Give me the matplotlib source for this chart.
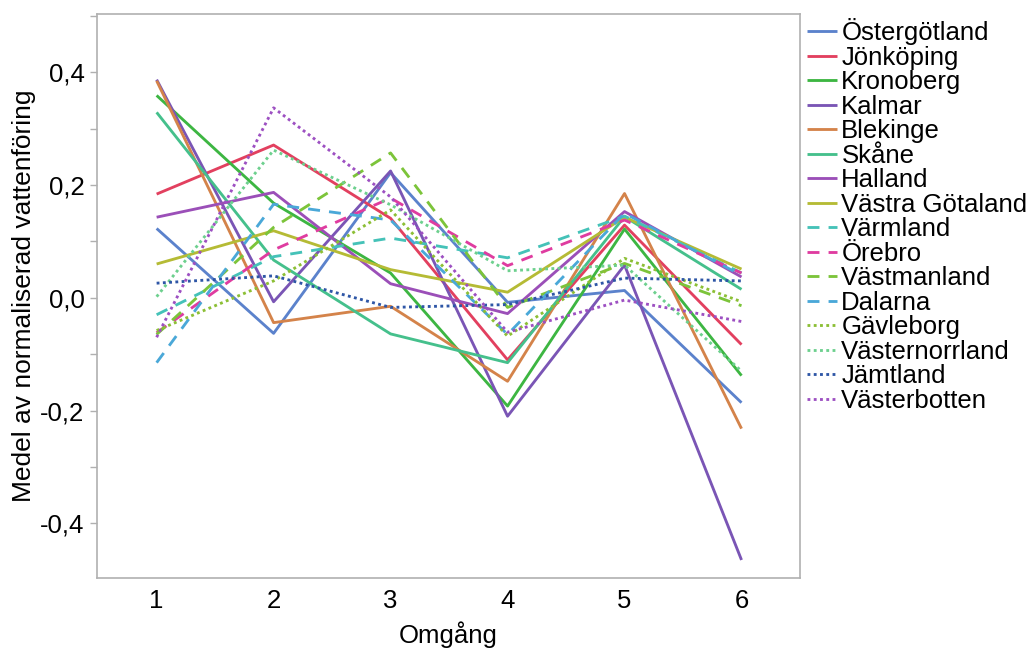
import matplotlib
matplotlib.use("Agg")
import matplotlib.pyplot as plt
from matplotlib.ticker import MultipleLocator, FuncFormatter

plt.rcParams['font.family'] = ['Liberation Sans', 'DejaVu Sans']

rounds = [1, 2, 3, 4, 5, 6]

names = ["Östergötland", "Jönköping", "Kronoberg", "Kalmar", "Blekinge", "Skåne",
         "Halland", "Västra Götaland", "Värmland", "Örebro", "Västmanland", "Dalarna",
         "Gävleborg", "Västernorrland", "Jämtland", "Västerbotten"]

ostergotland = [0.123, -0.063, 0.222, -0.008, 0.013, -0.186]
jonkoping = [0.184, 0.271, 0.141, -0.110, 0.129, -0.083]
kronoberg = [0.359, 0.168, 0.044, -0.192, 0.122, -0.138]
kalmar = [0.387, -0.007, 0.225, -0.210, 0.058, -0.465]
blekinge = [0.385, -0.044, -0.015, -0.148, 0.185, -0.232]
skane = [0.329, 0.067, -0.064, -0.115, 0.144, 0.015]
halland = [0.143, 0.187, 0.025, -0.028, 0.153, 0.037]
vastra_gotaland = [0.060, 0.119, 0.050, 0.010, 0.143, 0.051]
varmland = [-0.030, 0.073, 0.106, 0.071, 0.145, 0.044]
orebro = [-0.062, 0.085, 0.177, 0.057, 0.138, 0.044]
vastmanland = [-0.065, 0.125, 0.257, -0.017, 0.061, -0.014]
dalarna = [-0.115, 0.166, 0.138, -0.065, 0.150, 0.040]
gavleborg = [-0.058, 0.030, 0.156, -0.068, 0.070, -0.007]
vasternorrland = [0.002, 0.262, 0.165, 0.048, 0.058, -0.130]
jamtland = [0.026, 0.039, -0.017, -0.012, 0.035, 0.030]
vasterbotten = [-0.070, 0.337, 0.179, -0.061, -0.004, -0.042]

series = [ostergotland, jonkoping, kronoberg, kalmar, blekinge, skane, halland,
          vastra_gotaland, varmland, orebro, vastmanland, dalarna, gavleborg,
          vasternorrland, jamtland, vasterbotten]

colors = ["#5b82cc", "#e2405f", "#3db642", "#7a55b5", "#d4834a", "#45c08c",
          "#9b4fb8", "#b5bb35", "#45c2b8", "#df3ca0", "#7cc43a", "#4aa8d8",
          "#8cbf35", "#6dd08e", "#2e56a6", "#9d50c2"]
dash = (0, (4.2, 3.2))
dot = (0, (1.0, 1.2))
styles = ["-"] * 8 + [dash] * 4 + [dot] * 4

FS = 18.5

fig = plt.figure(figsize=(10.36, 6.48), dpi=100)
ax = fig.add_axes([0.0936, 0.108, 0.6786, 0.870])

for vals, name, c, ls in zip(series, names, colors, styles):
    ax.plot(rounds, vals, color=c, linestyle=ls, linewidth=2.05, label=name,
            dash_capstyle='butt', solid_capstyle='butt')

ax.set_xlim(0.49, 6.5)
ax.set_ylim(-0.497, 0.503)
ax.set_xticks(rounds)
ax.yaxis.set_major_locator(MultipleLocator(0.2))
ax.yaxis.set_minor_locator(MultipleLocator(0.1))
ax.yaxis.set_major_formatter(FuncFormatter(lambda v, p: ("%.1f" % v).replace(".", ",") if abs(v) > 1e-9 else "0,0"))
ax.tick_params(axis='y', which='both', direction='out', length=5, width=1, color='#b0b0b0', labelsize=FS, pad=4)
ax.tick_params(axis='x', length=0, labelsize=FS, pad=8)
for s in ax.spines.values():
    s.set_color('#b0b0b0')
    s.set_linewidth(1.2)

ax.set_xlabel("Omgång", fontsize=FS, labelpad=6)
ax.set_ylabel("Medel av normaliserad vattenföring", fontsize=FS + 0.5, labelpad=3)

leg = ax.legend(loc='upper left', bbox_to_anchor=(1.004, 1.0), frameon=False,
                fontsize=FS, handlelength=1.2, handletextpad=0.15,
                labelspacing=0.02, borderaxespad=0.0, borderpad=0.15)

fig.savefig("out.png", dpi=100)
